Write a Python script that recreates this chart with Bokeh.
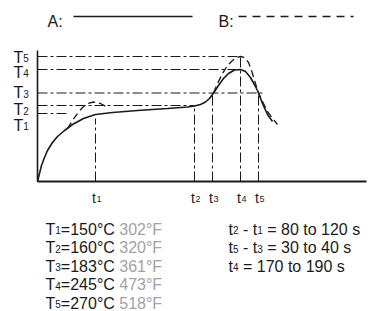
from bokeh.plotting import figure
from bokeh.models import Range1d
from bokeh.core.properties import value
from bokeh.embed import file_html
from bokeh.resources import INLINE

# ---------------- data (diagram units: time to the right, temperature up) ----------------
level_names = ["1", "2", "3", "4", "5"]            # T1..T5
level_y = [68, 76, 88.5, 112, 125]                   # drawn height of T1..T5
time_names = ["1", "2", "3", "4", "5"]             # t1..t5
time_x = [58, 157, 175, 203, 221]                    # drawn position of t1..t5

celsius = ["150", "160", "183", "245", "270"]
fahrenheit = ["302", "320", "361", "473", "518"]

# curve A (solid)
a_x = [0, 2, 4, 7, 10, 15, 20, 27, 35, 46, 58, 75, 100, 130, 150, 157, 163, 168, 172, 176,
       181, 186, 191, 197, 203, 208, 213, 218, 221, 225, 230, 235]
a_y = [0, 8, 16, 24, 31, 39, 45, 51, 57, 63, 67, 69, 71, 73, 74.5, 75.5, 77, 79.5, 83, 88.5,
       96, 103, 108, 111.5, 112, 110, 104, 95, 88.5, 78, 67, 60]

# curve B (dashed) : early overshoot and peak
b1_x = [30, 35, 40, 45, 50, 56, 63, 70]
b1_y = [53, 61, 68, 74, 78, 79.5, 78, 74]
b2_x = [176, 180, 185, 190, 195, 199, 203, 207, 211, 214, 218, 221, 226, 230, 235, 240]
b2_y = [88.5, 98, 108, 116, 121, 124, 125, 124, 119, 111, 98, 88.5, 78, 70, 63, 57]

# -------------------------------- figure --------------------------------------------------
W, H = 368, 311
OX, OY = 37, 181            # origin position inside the frame (px from left / from top)
p = figure(width=W, height=H, output_backend="svg", toolbar_location=None,
           x_range=Range1d(-OX, W - OX), y_range=Range1d(OY - H, OY),
           x_axis_location=None, y_axis_location=None,
           min_border=0, min_border_left=0, min_border_right=0,
           min_border_top=0, min_border_bottom=0)
p.outline_line_color = None
p.xgrid.visible = False
p.ygrid.visible = False
p.background_fill_color = "white"
p.border_fill_color = "white"

INK = "#1a1a1a"
GRAY = "#a3a3a3"
FONT = value("Liberation Sans")
DASHDOT = "10 3 3 3"

# reference lines (horizontal) to T levels
h_end = [32, time_x[1], time_x[4] + 4, time_x[3], time_x[3]]
p.segment(x0=[0] * 5, y0=level_y, x1=h_end, y1=level_y,
          line_color=INK, line_width=1, line_dash=DASHDOT)

# reference lines (vertical) at t marks
v_top = [63, level_y[1], level_y[2], level_y[4], level_y[2]]
p.segment(x0=time_x, y0=[0] * 5, x1=time_x, y1=v_top,
          line_color=INK, line_width=1, line_dash=DASHDOT)

# axes
p.line([0, 0], [0, 131], line_color=INK, line_width=1.6)
p.line([0, 329], [0, 0], line_color=INK, line_width=2)

# curves
p.line(a_x, a_y, line_color=INK, line_width=1.6)
p.line(b1_x, b1_y, line_color=INK, line_width=1.3, line_dash="7 4")
p.line(b2_x, b2_y, line_color=INK, line_width=1.3, line_dash="7 4")

# legend
p.line([36, 155], [165, 165], line_color=INK, line_width=1.3)
p.line([201, 316], [165, 165], line_color=INK, line_width=1.3, line_dash="8 6")

# ---------------- text helpers ----------------
AW = {" ": .278, "T": .611, "t": .278, "=": .584, "-": .333, "°": .400, "C": .722,
      "F": .611, "s": .5, "o": .556, "A": .667, "B": .667, ":": .278}


def tw(s, size):
    return sum(AW.get(c, .556) for c in s) * size


segs = {"x": [], "y": [], "text": [], "size": [], "color": []}


def put(x, y, txt, size, color=INK):
    segs["x"].append(x)
    segs["y"].append(y)
    segs["text"].append(txt)
    segs["size"].append(size)
    segs["color"].append(color)


def rich(x, y, parts, size=16, sub=10):
    for txt, kind in parts:
        sz = sub if kind == "sub" else size
        lead = len(txt) - len(txt.lstrip(" "))
        x += tw(" " * lead, sz)
        body = txt.strip(" ")
        if body:
            col = GRAY if kind == "gray" else INK
            put(x, y - 1 if kind == "sub" else y, body, sz, col)
        x += tw(txt.lstrip(" "), sz)


# legend labels
put(10, 160, "A:", 16)
put(181, 160, "B:", 16)

# T labels on the left
label_base = [56.3, 71.8, 89, 109.5, 124.3]
for nm, yb in zip(level_names, label_base):
    rich(-24, yb, [("T", "n"), (nm, "sub")], size=16, sub=10)

# t labels under the axis
for nm, xt in zip(time_names, time_x):
    put(xt + 0.5 - tw("t", 14), -16, "t", 14)
    put(xt + 1, -17, nm, 9)

# notes, left column
row_base = [-47.5, -66, -84.5, -103, -121.5]
for nm, c, f, yb in zip(level_names, celsius, fahrenheit, row_base):
    rich(8, yb, [("T", "n"), (nm, "sub"), ("=" + c + "°C ", "n"), (f + "°F", "gray")])

# notes, right column
rich(191, row_base[0], [("t", "n"), ("2", "sub"), (" - t", "n"), ("1", "sub"),
                        (" = 80 to 120 s", "n")])
rich(191, row_base[1], [("t", "n"), ("5", "sub"), (" - t", "n"), ("3", "sub"),
                        (" = 30 to 40 s", "n")])
rich(191, row_base[2], [("t", "n"), ("4", "sub"), (" = 170 to 190 s", "n")])

for size in sorted(set(segs["size"])):
    for color in (INK, GRAY):
        idx = [i for i in range(len(segs["x"])) if segs["size"][i] == size and segs["color"][i] == color]
        if not idx:
            continue
        p.text(x=[segs["x"][i] for i in idx], y=[segs["y"][i] for i in idx],
               text=[segs["text"][i] for i in idx],
               text_font=FONT, text_font_size=f"{size}px", text_color=color,
               text_align="left", text_baseline="alphabetic")

open("out.html", "w").write(file_html(p, INLINE))
